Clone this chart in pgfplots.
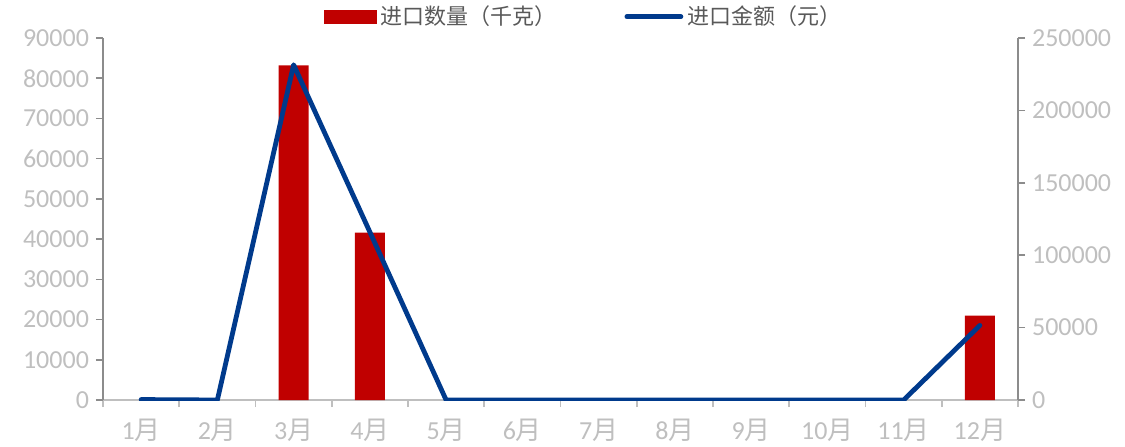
\documentclass[border=0pt]{standalone}
\usepackage{pgfplots}
\pgfplotsset{compat=1.18}
\usepackage{fontspec}
\setmainfont{Carlito}
\newfontfamily\cjk{Noto Sans CJK SC}
\definecolor{barred}{HTML}{C00000}
\definecolor{lineblue}{HTML}{003A8C}
\definecolor{lbl}{HTML}{BFBFBF}
\definecolor{axgray}{HTML}{8C8C8C}
\definecolor{leggray}{HTML}{595959}
\begin{document}
\begin{tikzpicture}
\pgfplotsset{
  common/.style={scale only axis, width=457.5pt, height=181pt,
    xmin=0.5, xmax=12.5, ymin=0,
    scaled y ticks=false,
    tick align=outside, major tick length=3.5pt,
    tick label style={font=\fontsize{13}{15}\selectfont, text=lbl},
  }
}
\begin{axis}[common, name=main,
  ymax=90000,
  axis x line*=bottom, axis y line*=left,
  x axis line style={draw=lbl, line width=0.8pt, -},
  y axis line style={draw=axgray, line width=0.8pt, -},
  xtick={0.5,1.5,...,12.5},
  x tick label as interval,
  xticklabels={1{\cjk 月},2{\cjk 月},3{\cjk 月},4{\cjk 月},5{\cjk 月},6{\cjk 月},7{\cjk 月},8{\cjk 月},9{\cjk 月},10{\cjk 月},11{\cjk 月},12{\cjk 月}},
  x tick style={draw=lbl, line width=0.8pt},
  ytick={0,10000,20000,30000,40000,50000,60000,70000,80000,90000},
  yticklabels={0,10000,20000,30000,40000,50000,60000,70000,80000,90000},
  y tick style={draw=axgray, line width=0.8pt},
  xticklabel style={yshift=-2.5pt},
  ybar, bar width=15pt,
]
\addplot[fill=barred, draw=none] coordinates {(3,83200) (4,41600) (12,21000)};
\end{axis}
\begin{axis}[common,
  ymax=250000,
  axis y line*=right, axis x line=none,
  xtick=\empty,
  y axis line style={draw=axgray, line width=0.8pt, -},
  ytick={0,50000,100000,150000,200000,250000},
  yticklabels={0,50000,100000,150000,200000,250000},
  y tick style={draw=axgray, line width=0.8pt},
  legend columns=2,
  legend style={draw=none, fill=none, at={(0.5,1)}, anchor=south, xshift=12pt, yshift=1pt,
    font=\cjk\fontsize{11}{13}\selectfont, text=leggray,
    /tikz/every even column/.append style={column sep=32pt}},
]
\addlegendimage{legend image code/.code={\fill[barred] (0pt,-3.25pt) rectangle (26pt,3.25pt);}}
\addlegendentry{进口数量（千克）}
\addplot[lineblue, line width=2.4pt, line join=round, line cap=round,
  legend image code/.code={\draw[lineblue, line width=2.4pt, line cap=round] (0pt,0pt) -- (27pt,0pt);}]
  coordinates {(1,300) (2,0) (3,231500) (4,116000) (5,0) (6,0) (7,0) (8,0) (9,0) (10,0) (11,0) (12,51500)};
\addlegendentry{进口金额（元）}
\end{axis}
\pgfresetboundingbox
\path[use as bounding box] ([xshift=-51.5pt,yshift=-23pt]main.south west) rectangle ([xshift=53.5pt,yshift=19pt]main.north east);
\end{tikzpicture}
\end{document}
